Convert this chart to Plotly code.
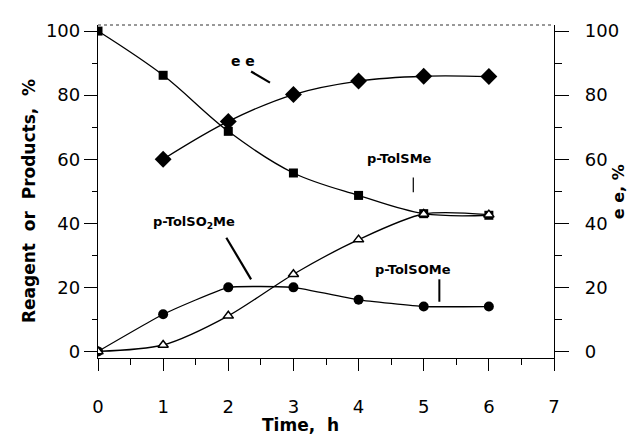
import plotly.graph_objects as go

time = [0, 1, 2, 3, 4, 5, 6]
reagent_sme = [100, 86.2, 68.7, 55.7, 48.7, 43, 42.5]
sulfone_so2me = [0, 11.6, 20, 20, 16.1, 14, 14]
sulfoxide_some = [0, 2, 11.1, 24.1, 34.9, 42.9, 42.7]
ee_time = [1, 2, 3, 4, 5, 6]
ee_values = [60, 71.8, 80.2, 84.4, 85.9, 85.8]

x_ticks = [0, 1, 2, 3, 4, 5, 6, 7]
y_ticks = [0, 20, 40, 60, 80, 100]

FONT = "DejaVu Sans, Liberation Sans, Arial, sans-serif"
BLACK = "#000000"

fig = go.Figure()

fig.add_trace(go.Scatter(
    x=time, y=reagent_sme, mode="lines+markers", line=dict(color=BLACK, width=1.3, shape="spline", smoothing=1.0),
    marker=dict(symbol="square", size=9, color=BLACK), showlegend=False))
fig.add_trace(go.Scatter(
    x=time, y=sulfone_so2me, mode="lines+markers", line=dict(color=BLACK, width=1.3, shape="spline", smoothing=0.35),
    marker=dict(symbol="circle", size=10, color=BLACK), showlegend=False))
fig.add_trace(go.Scatter(
    x=time, y=sulfoxide_some, mode="lines+markers", line=dict(color=BLACK, width=1.3, shape="spline", smoothing=0.8),
    marker=dict(symbol="triangle-up", size=9, color="white", line=dict(color=BLACK, width=1.5)), showlegend=False))
fig.add_trace(go.Scatter(
    x=ee_time, y=ee_values, mode="lines+markers", yaxis="y2", line=dict(color=BLACK, width=1.3, shape="spline", smoothing=1.0),
    marker=dict(symbol="diamond", size=13, color=BLACK), showlegend=False))

axis_common = dict(
    showgrid=False, zeroline=False, showline=True, linecolor=BLACK, linewidth=1.3,
    ticks="outside", tickcolor=BLACK, tickwidth=1.2,
    tickfont=dict(family=FONT, size=18, color=BLACK),
)

fig.update_layout(
    width=635, height=434,
    margin=dict(l=90, r=89, t=12, b=84),
    paper_bgcolor="white", plot_bgcolor="white",
    xaxis=dict(**axis_common, range=[0, 7], tickvals=x_ticks, ticklen=12, ticklabelstandoff=20,
               minor=dict(dtick=0.5, ticklen=6, ticks="outside", tickcolor=BLACK, tickwidth=1.2),
               mirror=False),
    yaxis=dict(**axis_common, range=[-2.06, 101.9], tickvals=y_ticks, ticklen=13, ticklabelstandoff=0,
               minor=dict(dtick=10, ticklen=5, ticks="outside", tickcolor=BLACK, tickwidth=1.2)),
    yaxis2=dict(**axis_common, range=[-2.06, 101.9], tickvals=y_ticks, ticklen=14, overlaying="y", side="right",
                ticklabelstandoff=12,
                minor=dict(dtick=10, ticklen=7, ticks="outside", tickcolor=BLACK, tickwidth=1.2)),
)

fig.add_shape(type="line", xref="paper", yref="paper", x0=0, x1=1, y0=1, y1=1,
              line=dict(color="#333333", width=1, dash="dot"))

lab_font = dict(family=FONT, size=13, color=BLACK)
annotations = [
    dict(x=2.23, y=90.6, text="<b>e e</b>", font=dict(family=FONT, size=14, color=BLACK)),
    dict(x=4.63, y=60.1, text="<b>p-TolSMe</b>", font=lab_font),
    dict(x=1.47, y=40.1, text="<b>p-TolSO<sub>2</sub>Me</b>", font=lab_font),
    dict(x=4.84, y=25.6, text="<b>p-TolSOMe</b>", font=lab_font),
]
for a in annotations:
    fig.add_annotation(xref="x", yref="y", showarrow=False, **a)

pointers = [
    (2.35, 87.4, 2.64, 83.9, 2.2),
    (4.84, 54.3, 4.84, 49.7, 1.2),
    (1.97, 35.5, 2.35, 22.5, 2.2),
    (5.24, 22.5, 5.24, 15.5, 2.0),
]
for x0, y0, x1, y1, w in pointers:
    fig.add_shape(type="line", xref="x", yref="y", x0=x0, y0=y0, x1=x1, y1=y1,
                  line=dict(color=BLACK, width=w))

title_font = dict(family=FONT, size=17, color=BLACK)
fig.add_annotation(xref="paper", yref="paper", x=-0.15, y=0.47, xanchor="center", yanchor="middle",
                   text="<b>Reagent  or  Products,  %</b>", textangle=-90, showarrow=False, font=title_font)
fig.add_annotation(xref="paper", yref="paper", x=1.142, y=0.5, xanchor="center", yanchor="middle",
                   text="<b>e e, %</b>", textangle=-90, showarrow=False, font=dict(family=FONT, size=16, color=BLACK))
fig.add_annotation(xref="paper", yref="paper", x=0.445, y=-0.2, xanchor="center", yanchor="middle",
                   text="<b>Time,  h</b>", showarrow=False, font=title_font)

fig.write_html("out.html")
